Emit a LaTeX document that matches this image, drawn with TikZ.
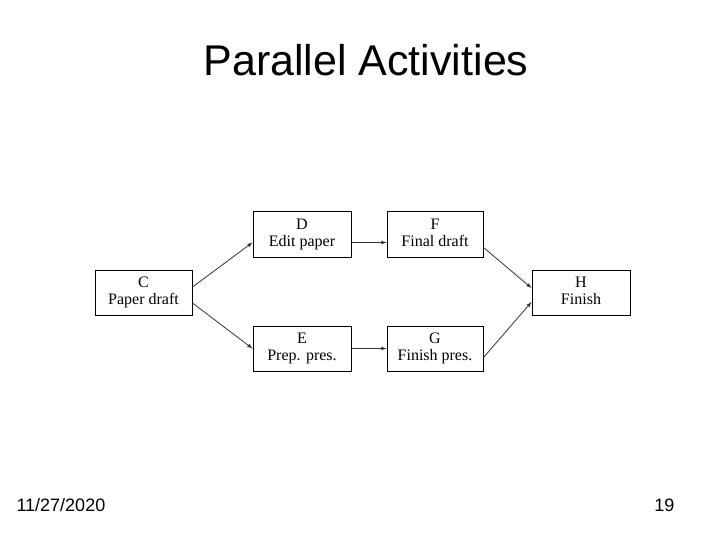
\documentclass[tikz,border=0pt]{standalone}
\usepackage{fontspec}
\setmainfont{Liberation Serif}
\newfontfamily\arial{Liberation Sans}
\newcommand{\bx}[2]{\strut #1\\\strut #2}
\begin{document}
\begin{tikzpicture}[x=1pt,y=-1pt,
  box/.style={draw,line width=1pt,minimum width=#1,minimum height=45pt,align=center,inner sep=0pt,font=\fontsize{16}{17}\selectfont},
  arr/.style={-latex,line width=0.8pt,draw=black!80}]
\useasboundingbox (0,0) rectangle (720,540);
\node[font=\arial\fontsize{43}{43}\selectfont] (t) at (366,60) {Parallel Activities};
\node[font=\arial\fontsize{18}{18}\selectfont,anchor=base west] (d) at (13,511) {11/27/2020};
\node[font=\arial\fontsize{18}{18}\selectfont,anchor=base east] (p) at (678,511) {19};
\node[box=98pt] (D) at (302,234.5) {\bx{D}{Edit paper}};
\node[box=96pt] (F) at (435,234.5) {\bx{F}{Final draft}};
\node[box=97pt] (C) at (143.5,293) {\bx{C}{Paper draft}};
\node[box=98pt] (H) at (581,293) {\bx{H}{Finish}};
\node[box=98pt] (E) at (302,348.5) {\bx{E}{Prep. pres.}};
\node[box=96pt] (G) at (435,348.5) {\bx{G}{Finish pres.}};
\draw[arr] ([yshift=6pt]C.east) -- ([yshift=-8pt]D.west);
\draw[arr] ([yshift=-10pt]C.east) -- (E.west);
\draw[arr] ([yshift=-8pt]D.east) -- ([yshift=-8pt]F.west);
\draw[arr] (E.east) -- (G.west);
\draw[arr] ([yshift=-13pt]F.east) -- ([yshift=5pt]H.west);
\draw[arr] ([yshift=-9pt]G.east) -- ([yshift=-9pt]H.west);
\end{tikzpicture}
\end{document}
